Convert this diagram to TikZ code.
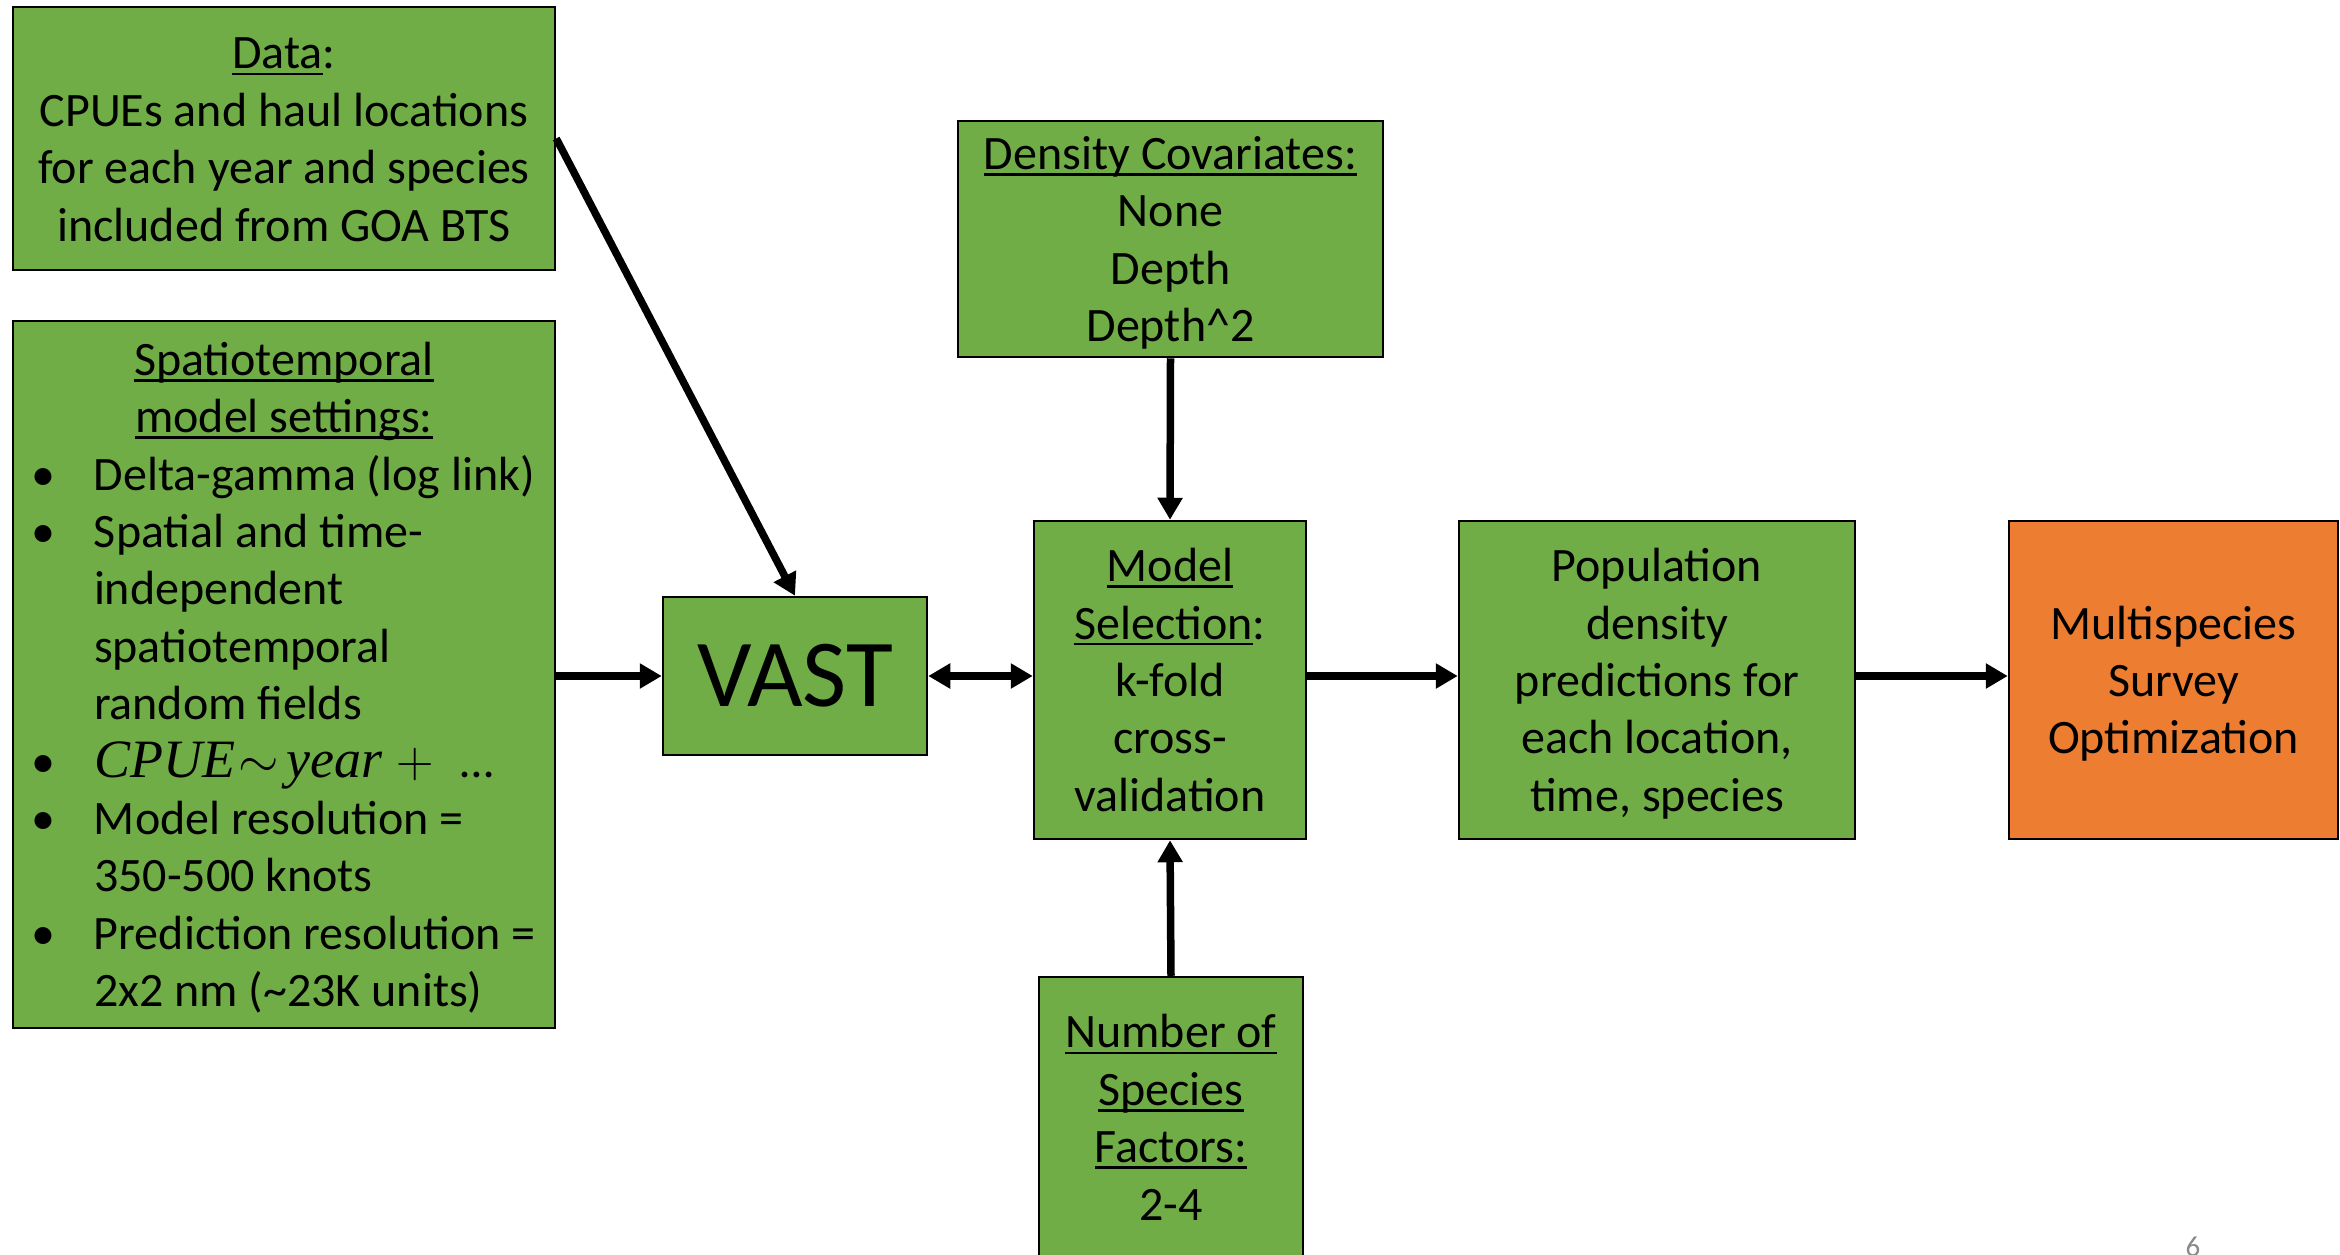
\RequirePackage{fix-cm}
\documentclass[tikz,border=0pt]{standalone}
\usepackage{fontspec}
\setmainfont{Carlito}
\newfontfamily\fml{Liberation Serif}
\usetikzlibrary{arrows.meta}

\definecolor{boxgreen}{HTML}{70AD47}
\definecolor{boxorange}{HTML}{ED7D31}
\definecolor{pagegray}{HTML}{898989}

% underlined heading text
\newcommand{\ulx}[1]{\setbox0=\hbox{#1}\rlap{\rule[-0.13em]{\wd0}{0.055em}}\box0}
% bullet with hanging text position, and continuation indent
\newcommand{\bul}{\makebox[81pt][l]{\hspace*{18pt}\textbullet}}
\newcommand{\cont}{\hspace*{81pt}}
% line box struts for the first and last line of a text block
\newcommand{\topstrut}{\rule{0pt}{0.96em}}
\newcommand{\botstrut}{\rule[-0.27em]{0pt}{0pt}}
% italic formula pieces
\newcommand{\fvar}[1]{{\fontsize{54}{57.4}\selectfont\fml\itshape #1}}

\begin{document}
\begin{tikzpicture}[x=1pt,y=-1pt,
  panel/.style={draw=black, line width=2.5pt, fill=boxgreen, inner sep=0pt,
    align=center, font=\fontsize{48}{57.4}\selectfont},
  conn/.style={line width=7.5pt, -{Triangle[length=22pt,width=24pt]}},
  conn2/.style={line width=7.5pt, {Triangle[length=22pt,width=24pt]}-{Triangle[length=22pt,width=24pt]}}]

\path[use as bounding box] (0,0) rectangle (2340,1254);
\clip (0,0) rectangle (2340,1254);

% input boxes
\node[panel, minimum width=542pt, minimum height=263pt] (data) at (284,138.5)
  {\topstrut\ulx{Data}:\\CPUEs and haul locations\\for each year and species\\included from GOA BTS\botstrut};

\node[panel, minimum width=542pt, minimum height=707pt, text width=542pt, align=flush left] (spatio) at (284,674.5)
  {\topstrut\makebox[542pt]{\ulx{Spatiotemporal}}\\
   \makebox[542pt]{\ulx{model settings:}}\\
   \bul Delta-gamma (log link)\\
   \bul Spatial and time-\\
   \cont independent\\
   \cont spatiotemporal\\
   \cont random fields\\
   \bul\fvar{CPUE}\hspace{4pt}{\fontsize{52}{57.4}\selectfont$\sim$}\hspace{7pt}\fvar{year}\hspace{14pt}{\fontsize{52}{57.4}\selectfont$+$}\hspace{27pt}…\\
   \bul Model resolution =\\
   \cont 350-500 knots\\
   \bul Prediction resolution =\\
   \cont 2x2 nm (\textasciitilde 23K units)\botstrut};

\node[panel, minimum width=264pt, minimum height=158pt, font=\fontsize{96}{110}\selectfont] (vast) at (795,676) {VAST};

\node[panel, minimum width=272pt, minimum height=318pt] (model) at (1170,680)
  {\topstrut\ulx{Model}\\\ulx{Selection}:\\k-fold\\cross-\\validation\botstrut};

\node[panel, minimum width=425pt, minimum height=236pt] (dens) at (1170.5,239)
  {\topstrut\ulx{Density Covariates:}\\None\\Depth\\Depth\textasciicircum 2\botstrut};

\node[panel, minimum width=264pt, minimum height=281pt] (nspec) at (1171,1117.5)
  {\topstrut\ulx{Number of}\\\ulx{Species}\\\ulx{Factors:}\\2-4\botstrut};

\node[panel, minimum width=396pt, minimum height=318pt] (pop) at (1657,680)
  {\topstrut Population\\density\\predictions for\\each location,\\time, species\botstrut};

\node[panel, fill=boxorange, minimum width=329pt, minimum height=318pt] (multi) at (2173.5,680)
  {\topstrut Multispecies\\Survey\\Optimization\botstrut};

\node[text=pagegray, font=\fontsize{29}{34}\selectfont, anchor=base, inner sep=0pt] (pagenum) at (2193,1256) {6};

% connectors
\draw[conn] (data.east) -- (vast.north);
\draw[conn] (spatio.east |- vast.west) -- (vast.west);
\draw[conn2] (vast.east) -- (model.west |- vast.east);
\draw[conn] (dens.south) -- (model.north);
\draw[conn] (nspec.north) -- (model.south);
\draw[conn] (model.east |- vast.east) -- (pop.west |- vast.east);
\draw[conn] (pop.east |- vast.east) -- (multi.west |- vast.east);
\end{tikzpicture}
\end{document}
